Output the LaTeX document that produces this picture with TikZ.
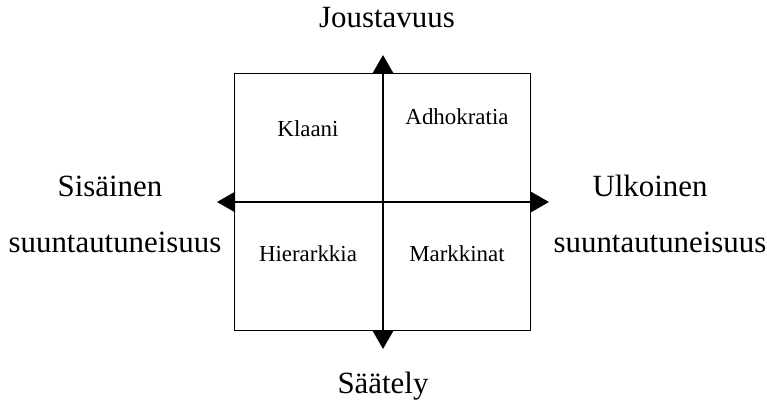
\documentclass[tikz,border=0pt]{standalone}
\usepackage{fontspec}
\setmainfont{Liberation Serif}
\usepackage{xcolor}
\usetikzlibrary{arrows.meta}

\begin{document}
\begin{tikzpicture}[x=1bp,y=-1bp,>={Triangle[width=20bp,length=18bp]},
  axislabel/.style={anchor=base,inner sep=0pt,font=\fontsize{31}{33}\selectfont},
  quadlabel/.style={anchor=base,inner sep=0pt,font=\fontsize{23}{25}\selectfont}]
\useasboundingbox (0,0) rectangle (767,416);
% the four quadrants
\node[draw,line width=1.5bp,minimum width=296bp,minimum height=257bp,inner sep=0pt] (Box) at (382.5,202) {};
\node[quadlabel] (Klaani) at (308,136) {Klaani};
\node[quadlabel] (Adhokratia) at (457,124) {Adhokratia};
\node[quadlabel] (Hierarkkia) at (308,261) {Hierarkkia};
\node[quadlabel] (Markkinat) at (457,261) {Markkinat};
% axis ends
\coordinate (N) at (383,55);
\coordinate (S) at (383,349);
\coordinate (W) at (217,202);
\coordinate (E) at (549,202);
\draw[<->,line width=2.5bp] (S) -- (N);
\draw[<->,line width=2.5bp] (W) -- (E);
% axis labels
\node[axislabel] (Joustavuus) at (387,27) {Joustavuus};
\node[axislabel] (Saately) at (383,393) {Säätely};
\node[axislabel] (Sisainen) at (110,196) {Sisäinen};
\node[axislabel] (SisSuunta) at (115,252) {suuntautuneisuus};
\node[axislabel] (Ulkoinen) at (650,196) {Ulkoinen};
\node[axislabel] (UlkSuunta) at (660,252) {suuntautuneisuus};
\end{tikzpicture}
\end{document}
